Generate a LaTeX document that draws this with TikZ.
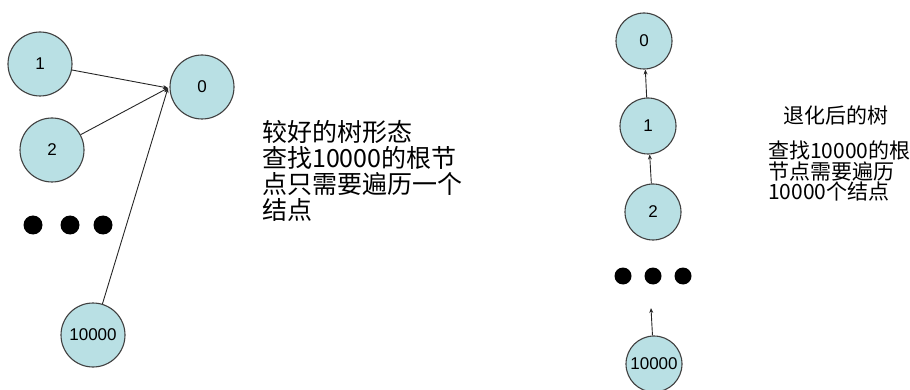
\documentclass[tikz,border=0pt]{standalone}
\usepackage{fontspec}
\setmainfont{Liberation Sans}
\newfontfamily\cjk{Noto Sans CJK SC}
\usetikzlibrary{arrows.meta}
\definecolor{nodefill}{RGB}{185,224,228}
\definecolor{nodeline}{RGB}{64,64,64}
\tikzset{
  treenode/.style={circle, draw=nodeline, fill=nodefill, line width=1.1pt, inner sep=0pt, font=\fontsize{17}{17}\selectfont},
  bignode/.style={treenode, minimum size=64pt},
  smallnode/.style={treenode, minimum size=56pt},
  dotmark/.style={circle, fill=black, inner sep=0pt},
  link/.style={draw=black!85, line width=0.9pt, -{Stealth[length=5pt,width=4pt]}},
  txt/.style={align=left, inner sep=0pt, text=black}
}
\begin{document}
\begin{tikzpicture}[x=1pt,y=-1pt]
\useasboundingbox (0,0) rectangle (910,390);
% left tree
\node[bignode] (l0) at (202,87) {0};
\node[bignode] (l1) at (40,64) {1};
\node[bignode] (l2) at (52,150) {2};
\node[bignode] (l4) at (93,335) {10000};
\node[dotmark, minimum size=19pt] (ld1) at (33,225) {};
\node[dotmark, minimum size=19pt] (ld2) at (70,225) {};
\node[dotmark, minimum size=19pt] (ld3) at (103,225) {};
\coordinate (tip) at (168,88);
\draw[link] (l1) -- (tip);
\draw[link] (l2) -- (tip);
\draw[link] (l4) -- (tip);
% left text
\node[txt, anchor=north west, font=\cjk\fontsize{25}{26}\selectfont] (t1) at (262,120)
  {较好的树形态\\查找10000的根节\\点只需要遍历一个\\结点};
% right tree
\node[smallnode] (r0) at (644,41) {0};
\node[smallnode] (r1) at (648,126) {1};
\node[smallnode] (r2) at (653,212) {2};
\node[smallnode] (r4) at (654,364) {10000};
\node[dotmark, minimum size=17pt] (rd1) at (623,276) {};
\node[dotmark, minimum size=17pt] (rd2) at (653,276) {};
\node[dotmark, minimum size=17pt] (rd3) at (683,276) {};
\coordinate (rfree) at (651,308);
\draw[link] (r1) -- (r0);
\draw[link] (r2) -- (r1);
\draw[link] (r4) -- (rfree);
% right text
\node[txt, anchor=north west, font=\cjk\fontsize{21}{21}\selectfont] (t2) at (783,106) {退化后的树};
\node[txt, anchor=north west, font=\cjk\fontsize{21}{20.5}\selectfont] (t3) at (768,141)
  {查找10000的根\\节点需要遍历\\10000个结点};
\end{tikzpicture}
\end{document}
